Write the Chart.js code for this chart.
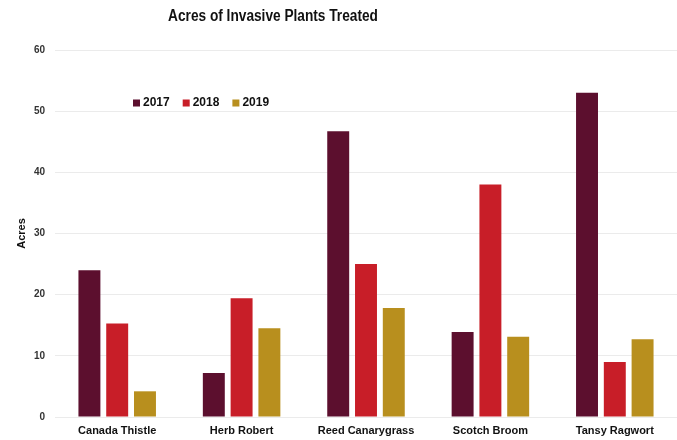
<!DOCTYPE html>
<html>
<head>
<meta charset="utf-8">
<script src="https://cdn.jsdelivr.net/npm/chart.js@4"></script>
<style>
  body { margin: 0; background: #fff; }
  #wrap { width: 677px; height: 440px; }
</style>
</head>
<body>
<div id="wrap"><canvas id="acresChart" width="677" height="440"></canvas></div>
<script>
const plants = ['Canada Thistle', 'Herb Robert', 'Reed Canarygrass', 'Scotch Broom', 'Tansy Ragwort']
const years = ['2017', '2018', '2019']
const acres2017 = [24.0, 7.2, 46.7, 13.9, 53.0]
const acres2018 = [15.3, 19.4, 25.0, 38.0, 9.0]
const acres2019 = [4.2, 14.5, 17.8, 13.1, 12.7]
const yTicks = [0, 10, 20, 30, 40, 50, 60]
const chartTitle = 'Acres of Invasive Plants Treated'

const colors = ['#5c0f2e', '#c81e28', '#b88f1e']
const font = "'Liberation Sans', Arial, sans-serif"

// title sits a little left of centre and is condensed, so it is drawn by hand
const offsetTitle = {
    id: 'offsetTitle',
    afterDraw(chart) {
        const ctx = chart.ctx
        ctx.save()
        ctx.font = 'bold 16px ' + font
        ctx.fillStyle = '#111'
        ctx.textAlign = 'center'
        ctx.textBaseline = 'middle'
        ctx.translate(273, 17)
        ctx.scale(0.855, 1)
        ctx.fillText(chartTitle, 0, 0)
        ctx.restore()
    }
}

// legend sits inside the plot, upper left
const innerLegend = {
    id: 'innerLegend',
    afterDraw(chart) {
        const ctx = chart.ctx
        let x = chart.chartArea.left + 78
        const y = chart.chartArea.top + 53
        ctx.save()
        ctx.font = 'bold 12px ' + font
        ctx.textBaseline = 'middle'
        chart.data.datasets.forEach(ds => {
            ctx.fillStyle = ds.backgroundColor
            ctx.fillRect(x, y - 3.5, 7, 7)
            ctx.fillStyle = '#111'
            ctx.fillText(ds.label, x + 10, y)
            x += 10 + ctx.measureText(ds.label).width + 13
        })
        ctx.restore()
    }
}

const series = [acres2017, acres2018, acres2019]
const datasets = years.map((yr, i) => ({
    label: yr,
    data: series[i],
    backgroundColor: colors[i],
    categoryPercentage: 0.67,
    barPercentage: 0.79
}))

const ctx = document.getElementById('acresChart').getContext('2d')
new Chart(ctx, {
    type: 'bar',
    data: { labels: plants, datasets: datasets },
    plugins: [offsetTitle, innerLegend],
    options: {
        responsive: false,
        animation: false,
        layout: { padding: { top: 50, left: 15, right: 0, bottom: 0 } },
        plugins: {
            legend: { display: false },
            tooltip: { enabled: false },
            title: { display: false }
        },
        scales: {
            x: {
                grid: { display: false, drawTicks: false },
                border: { display: false },
                ticks: {
                    color: '#111',
                    font: { family: font, size: 11, weight: 'bold' },
                    padding: 7,
                    maxRotation: 0
                },
                afterFit(scale) { scale.height = 23 }
            },
            y: {
                min: 0,
                max: 60,
                afterBuildTicks(scale) { scale.ticks = yTicks.map(v => ({ value: v })) },
                grid: { color: '#ebebeb', drawTicks: false },
                border: { display: false },
                ticks: {
                    color: '#333',
                    font: { family: font, size: 10, weight: 'bold' },
                    padding: 10
                },
                title: {
                    display: true,
                    text: 'Acres',
                    color: '#111',
                    font: { family: font, size: 11, weight: 'bold' },
                    padding: 0
                },
                afterFit(scale) { scale.width = 40 }
            }
        }
    }
})
</script>
</body>
</html>
